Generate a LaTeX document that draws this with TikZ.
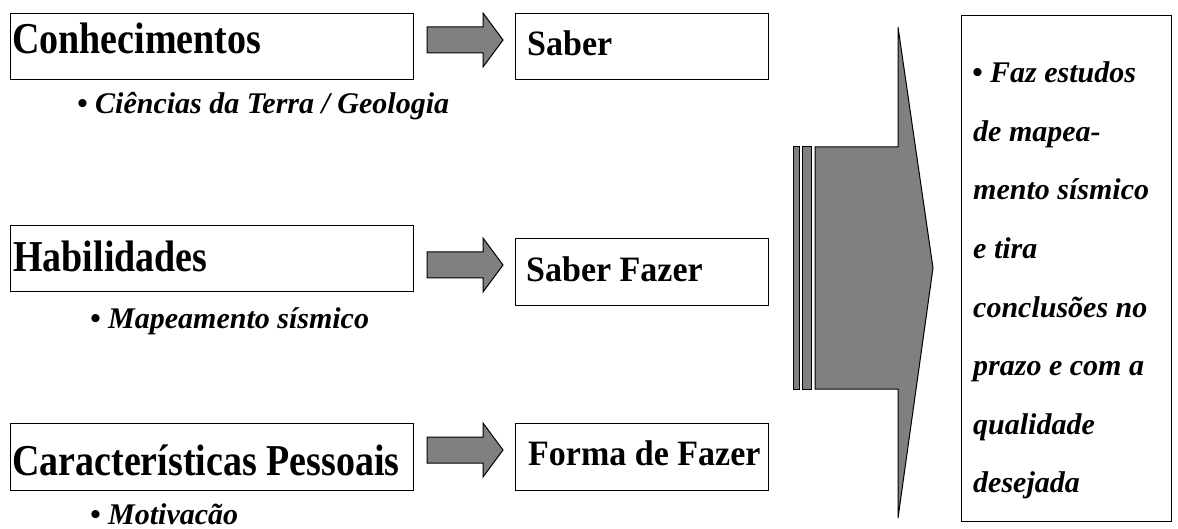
\documentclass[tikz,border=0pt]{standalone}
\usepackage{graphicx}
\usepackage{fontspec}
\setmainfont{Liberation Serif}
\definecolor{arrowgray}{RGB}{128,128,128}
% headings are set slightly taller than wide
\newcommand\tallhead[1]{\scalebox{1}[1.16]{#1}}
\newcommand\talloutcome[1]{\scalebox{1}[1.05]{#1}}
\begin{document}
\begin{tikzpicture}[x=1pt,y=-1pt,
  box/.style={draw=black, line width=1.3pt, inner sep=0pt, anchor=north west},
  boxtext/.style={anchor=base west, inner sep=0pt, font=\fontsize{38}{40}\selectfont\bfseries},
  resulttext/.style={anchor=base west, inner sep=0pt, font=\fontsize{34}{36}\selectfont\bfseries},
  itemtext/.style={anchor=base west, inner sep=0pt, font=\fontsize{30}{32}\selectfont\bfseries\itshape},
  blockarrow/.style={draw=black, line width=1pt, fill=arrowgray, line join=miter},
  pics/blockarr/.style={code={
    \draw[blockarrow] (0,14) -- (56,14) -- (56,0) -- (76,27) -- (56,54) -- (56,40) -- (0,40) -- cycle;}}]
\useasboundingbox (0,0) rectangle (1178,529);

% competence boxes (left column)
\node[box, minimum width=403pt, minimum height=66pt] (conhec) at (10,13) {};
\node[box, minimum width=403pt, minimum height=66pt] (habil) at (10,225) {};
\node[box, minimum width=403pt, minimum height=67pt] (caract) at (10,423) {};
\node[boxtext] (conhecT) at (12,54) {\tallhead{Conhecimentos}};
\node[boxtext] (habilT) at (13,272) {\tallhead{Habilidades}};
\node[boxtext] (caractT) at (12,475) {\tallhead{Características Pessoais}};

% examples under each competence
\node[itemtext] (conhecI) at (77,114) {• Ciências da Terra / Geologia};
\node[itemtext] (habilI) at (90,328) {• Mapeamento sísmico};
\node[itemtext] (caractI) at (90,524) {• Motivacão};

% outcome boxes (middle column)
\node[box, minimum width=253pt, minimum height=66pt] (saber) at (515,13) {};
\node[box, minimum width=253pt, minimum height=67pt] (saberfazer) at (515,238) {};
\node[box, minimum width=253pt, minimum height=67pt] (forma) at (515,423) {};
\node[resulttext] (saberT) at (527,56) {\talloutcome{Saber}};
\node[resulttext] (saberfazerT) at (526,282) {\talloutcome{Saber Fazer}};
\node[resulttext] (formaT) at (528,465) {\talloutcome{Forma de Fazer}};

% block arrows from competence to outcome
\path (saber.north west) ++(-88,0) pic {blockarr};
\path (saberfazer.north west) ++(-88,0) pic {blockarr};
\path (forma.north west) ++(-88,0) pic {blockarr};

% big converging arrow
\draw[blockarrow] (793,147) rectangle (799,389);
\draw[blockarrow] (802,147) rectangle (811,389);
\draw[blockarrow] (815,147) -- (898,147) -- (898,27) -- (933,268)
  -- (898,518) -- (898,389) -- (815,389) -- cycle;

% result box
\node[box, minimum width=210pt, minimum height=506pt] (result) at (961,15) {};
\node[itemtext] (r1) at (972,83) {• Faz estudos};
\node[itemtext] (r2) at (973,141.5) {de mapea-};
\node[itemtext] (r3) at (973,200) {mento sísmico};
\node[itemtext] (r4) at (973,258.5) {e tira};
\node[itemtext] (r5) at (973,317) {conclusões no};
\node[itemtext] (r6) at (973,375.5) {prazo e com a};
\node[itemtext] (r7) at (973,434) {qualidade};
\node[itemtext] (r8) at (973,492.5) {desejada};
\end{tikzpicture}
\end{document}
